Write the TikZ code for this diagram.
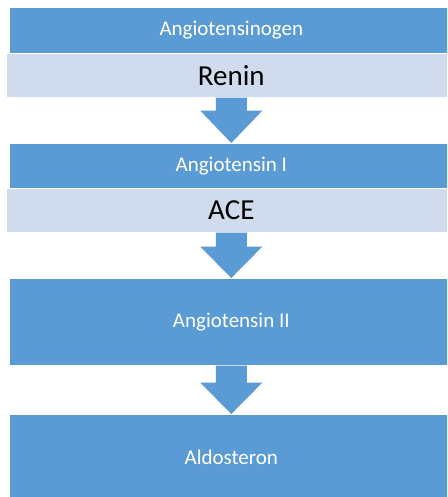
\documentclass[tikz,border=0pt]{standalone}
\usepackage{fontspec}
\setmainfont{Carlito}
\usetikzlibrary{calc}
\definecolor{boxblue}{RGB}{91,155,213}
\definecolor{bandblue}{RGB}{208,220,238}
\tikzset{
  box/.style={fill=boxblue, draw=white, line width=0.6pt, anchor=north west, inner sep=0pt,
    minimum width=444pt, text=white, font=\fontsize{21}{25}\selectfont},
  band/.style={fill=bandblue, draw=white, line width=0.6pt, anchor=north west, inner sep=0pt,
    minimum width=450pt, minimum height=44pt, text=black, font=\fontsize{29}{33}\selectfont},
  arrfill/.style={fill=boxblue}
}
\newcommand{\blockarr}[3]{%
  \fill[arrfill] ($(#1.south)+(-15.5,0)$) -- ++(0,#3) -- ++(-15.5,0) -- (#2.north)
    -- ($(#1.south)+(31,#3)$) -- ++(-15.5,0) -- ($(#1.south)+(15.5,0)$) -- cycle;}
\begin{document}
\begin{tikzpicture}[x=1pt,y=-1pt]
\useasboundingbox (0,0) rectangle (447,497);
\clip (0,0) rectangle (447,497);
\fill[white] (0,0) rectangle (447,497);
\node[box, minimum height=46pt] (b1) at (9,7) {Angiotensinogen};
\node[band] (renin) at (6,53) {Renin};
\node[box, minimum height=45pt] (b2) at (9,143) {Angiotensin I};
\node[band] (ace) at (6,188) {ACE};
\node[box, minimum height=87pt] (b3) at (9,278) {Angiotensin II};
\node[box, minimum height=86pt] (b4) at (9,414) {Aldosteron};
\blockarr{renin}{b2}{13}
\blockarr{ace}{b3}{14}
\blockarr{b3}{b4}{17}
\end{tikzpicture}
\end{document}
